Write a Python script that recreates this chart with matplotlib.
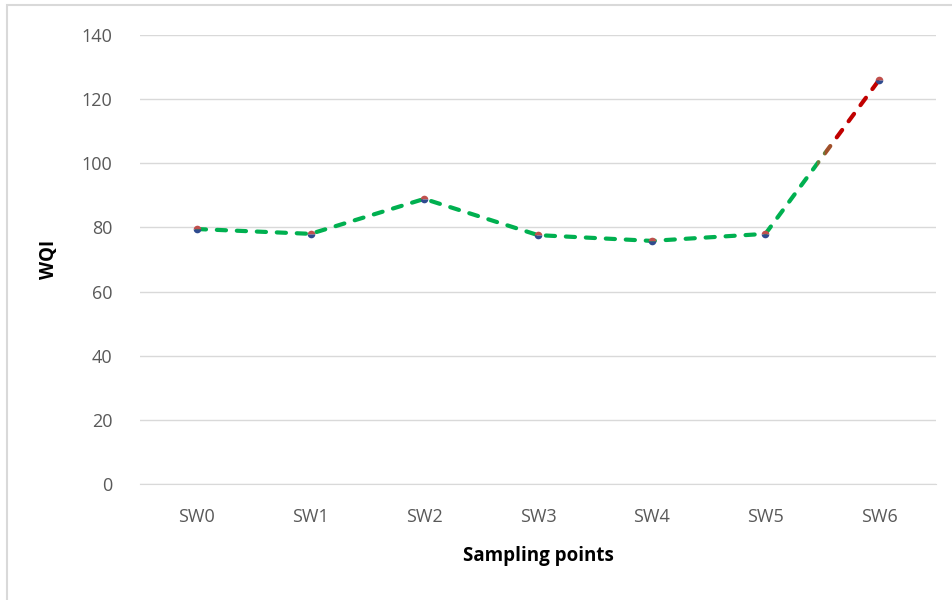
import matplotlib.pyplot as plt
from matplotlib.patches import Rectangle

# Data
points = ["SW0", "SW1", "SW2", "SW3", "SW4", "SW5", "SW6"]
wqi = [79.5, 78.0, 88.9, 77.6, 75.8, 78.0, 126.0]

green = "#00B050"
red = "#C00000"
plt.rcParams["font.family"] = ["Open Sans", "DejaVu Sans"]

fig = plt.figure(figsize=(9.53, 6.0), dpi=100)
ax = fig.add_axes([140 / 953, 1 - 484 / 600, 796 / 953, 449 / 600])

x = list(range(len(points)))
dash = (0, (2.2, 2.6))

# first part of the line (SW0..SW5) in green
ax.plot(x[:-1], wqi[:-1], color=green, linewidth=3, linestyle=dash,
        dash_capstyle="round", zorder=3)

# last segment: green fading to red, drawn several times with clipping
seg_x = x[-2:]
seg_y = wqi[-2:]
mid = x[-2] + 0.5
bands = [(x[-2] - 0.1, mid - 0.05, green),
         (mid - 0.05, mid + 0.02, "#6E7A3A"),
         (mid + 0.02, mid + 0.1, "#A0502A"),
         (mid + 0.1, x[-1] + 0.1, red)]
for x0, x1, col in bands:
    ln, = ax.plot(seg_x, seg_y, color=col, linewidth=3, linestyle=dash,
                  dash_capstyle="round", zorder=3)
    clip = Rectangle((x0, -10), x1 - x0, 200, transform=ax.transData,
                     facecolor="none", edgecolor="none")
    ax.add_patch(clip)
    ln.set_clip_path(clip)

# markers: red top, blue bottom
ax.plot(x, wqi, linestyle="none", marker="o", markersize=5.5,
        fillstyle="top", markerfacecolor="#C0504D",
        markerfacecoloralt="#2F4B8F", markeredgewidth=0, zorder=4)

ax.set_xlim(-0.5, len(points) - 0.5)
ax.set_ylim(0, 140)
ax.set_yticks(range(0, 141, 20))
ax.set_xticks(x)
ax.set_xticklabels(points)
ax.grid(axis="y", color="#D9D9D9", linewidth=1)
ax.set_axisbelow(True)
for s in ["top", "right", "left"]:
    ax.spines[s].set_visible(False)
ax.spines["bottom"].set_color("#D9D9D9")
ax.tick_params(axis="both", length=0, labelsize=13, labelcolor="#595959")
ax.tick_params(axis="y", pad=20)
ax.tick_params(axis="x", pad=17)

ax.set_xlabel("Sampling points", fontsize=13.5, fontweight="bold", labelpad=15)
ax.set_ylabel("WQI", fontsize=13.5, fontweight="bold", labelpad=16)

# outer chart frame
fig.patches.append(Rectangle((7 / 953, -0.05), 1.0, 1 - 5 / 600 + 0.05,
                             transform=fig.transFigure, facecolor="none",
                             edgecolor="#D9D9D9", linewidth=1.5))

fig.savefig("out.png", dpi=100)
